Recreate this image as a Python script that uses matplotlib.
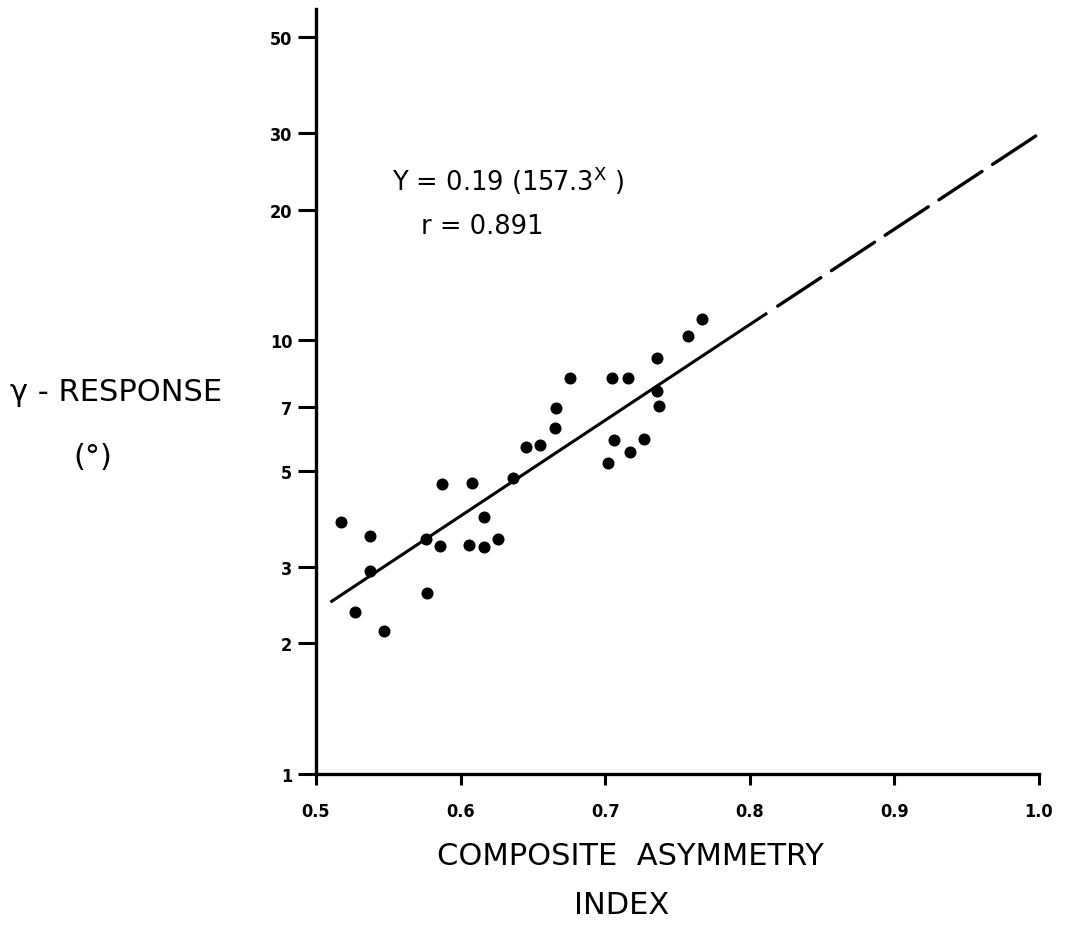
import matplotlib
matplotlib.use("Agg")
import matplotlib.pyplot as plt

# scanned figure: gamma response vs composite asymmetry index (log y)
plt.rcParams['font.family'] = ['DejaVu Sans']
plt.rcParams['font.stretch'] = 'condensed'
plt.rcParams['mathtext.default'] = 'regular'

# data
asym_index = [0.517, 0.537, 0.537, 0.527, 0.547, 0.576, 0.587, 0.586, 0.577, 0.608,
              0.606, 0.616, 0.616, 0.626, 0.636, 0.645, 0.655, 0.665, 0.666, 0.676,
              0.705, 0.716, 0.736, 0.736, 0.737, 0.706, 0.727, 0.717, 0.702, 0.757,
              0.767]
gamma_resp = [3.80, 3.53, 2.94, 2.36, 2.14, 3.49, 4.65, 3.36, 2.62, 4.69,
              3.37, 3.34, 3.92, 3.48, 4.80, 5.66, 5.72, 6.26, 6.98, 8.19,
              8.20, 8.20, 9.12, 7.64, 7.06, 5.89, 5.91, 5.51, 5.20, 10.2,
              11.2]

# regression line Y = 0.19 (157.3^X): solid over the data, dashed beyond
fit_solid_x = [0.51, 0.812]
fit_solid_y = [2.49, 11.55]
fit_dash_x = [0.812, 1.0]
fit_dash_y = [11.55, 29.9]

yticks = [1, 2, 3, 5, 7, 10, 20, 30, 50]
ytick_labels = ['1', '2', '3', '5', '7', '10', '20', '30', '50']
xticks = [0.5, 0.6, 0.7, 0.8, 0.9, 1.0]
xtick_labels = ['0.5', '0.6', '0.7', '0.8', '0.9', '1.0']

W, H = 1071, 928
fig = plt.figure(figsize=(W / 100, H / 100), dpi=100)
ax = fig.add_axes([316 / W, 1 - 775 / H, 723 / W, 765 / H])

ax.scatter(asym_index, gamma_resp, s=75, color='black', zorder=3, linewidths=0)
ax.plot(fit_solid_x, fit_solid_y, color='black', lw=2.2, solid_capstyle='butt')
ax.plot(fit_dash_x, fit_dash_y, color='black', lw=2.4,
        linestyle=(15.5, (15.5, 3.8)), dash_capstyle='round')

ax.set_yscale('log')
ax.set_xlim(0.5, 1.0)
ax.set_ylim(1, 58)
ax.set_yticks(yticks)
ax.set_yticklabels(ytick_labels)
ax.yaxis.set_minor_locator(matplotlib.ticker.NullLocator())
ax.set_xticks(xticks)
ax.set_xticklabels(xtick_labels)

for side in ['top', 'right']:
    ax.spines[side].set_visible(False)
for side in ['left', 'bottom']:
    ax.spines[side].set_linewidth(2.4)
ax.tick_params(axis='y', direction='out', length=13, width=2.2, pad=4,
               labelsize=13)
ax.tick_params(axis='x', direction='out', length=8, width=2.2, pad=12,
               labelsize=13)
for lbl in ax.get_xticklabels() + ax.get_yticklabels():
    lbl.set_fontweight('bold')

# equation and correlation
fig.text(392 / W, 1 - 181 / H, 'Y = 0.19 (157.3$^{X}$ )', fontsize=18.5,
         fontstretch='normal', ha='left', va='center')
fig.text(421 / W, 1 - 227 / H, 'r = 0.891', fontsize=18.5,
         fontstretch='normal', ha='left', va='center')

# axis titles
fig.text(10 / W, 1 - 393 / H, 'γ - RESPONSE', fontsize=22,
         fontstretch='normal', ha='left', va='center')
fig.text(93 / W, 1 - 457 / H, '(°)', fontsize=22, fontstretch='normal',
         ha='center', va='center')
fig.text(630 / W, 1 - 857 / H, 'COMPOSITE  ASYMMETRY', fontsize=22,
         fontstretch='normal', ha='center', va='center')
fig.text(622 / W, 1 - 906 / H, 'INDEX', fontsize=22, fontstretch='normal',
         ha='center', va='center')

fig.savefig('out.png', dpi=100)
